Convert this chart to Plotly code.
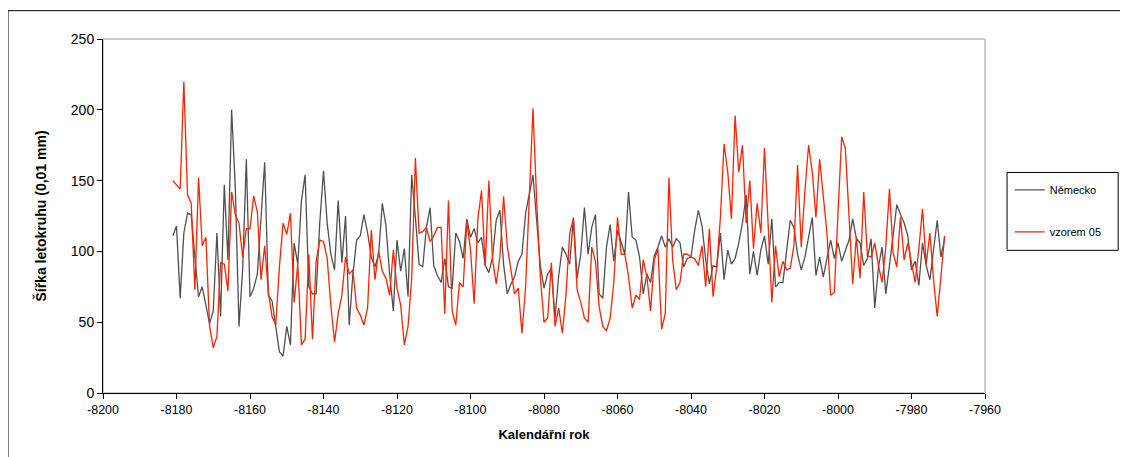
import plotly.graph_objects as go

start_year = -8181
nemecko = [111, 118, 67, 113, 127, 126, 96, 68, 75, 61, 49, 58, 113, 54, 147, 94, 200, 145, 47, 87,
           165, 68, 74, 84, 125, 163, 69, 65, 47, 29, 26, 47, 34, 106, 91, 136, 154, 75, 70, 70,
           121, 157, 120, 98, 87, 136, 92, 125, 48, 84, 108, 111, 126, 113, 96, 89, 98, 134, 118, 84,
           58, 108, 86, 102, 68, 154, 124, 91, 89, 117, 131, 90, 83, 78, 95, 75, 74, 113, 107, 95,
           123, 110, 116, 106, 110, 90, 85, 96, 122, 129, 91, 70, 77, 82, 93, 98, 127, 140, 154, 122,
           90, 74, 84, 88, 53, 83, 103, 98, 91, 124, 81, 98, 131, 98, 117, 126, 70, 67, 103, 119,
           93, 115, 107, 98, 142, 110, 108, 96, 70, 84, 78, 97, 103, 111, 103, 109, 103, 109, 106, 89,
           95, 96, 115, 129, 118, 94, 77, 90, 89, 113, 80, 101, 91, 95, 106, 120, 140, 84, 100, 83,
           101, 111, 91, 123, 75, 78, 78, 99, 122, 117, 98, 87, 96, 110, 124, 83, 96, 82, 94, 108,
           95, 106, 93, 101, 108, 123, 109, 106, 90, 95, 109, 60, 89, 103, 70, 90, 110, 133, 126, 120,
           111, 87, 93, 76, 106, 90, 80, 101, 122, 96, 109]
vzorem05 = [150, 147, 144, 220, 140, 134, 73, 152, 104, 110, 47, 32, 40, 92, 91, 72, 142, 126, 120, 96,
            116, 116, 139, 128, 80, 104, 71, 54, 48, 89, 120, 112, 127, 64, 91, 34, 38, 98, 38, 93,
            108, 107, 95, 62, 36, 56, 69, 96, 84, 87, 60, 55, 48, 60, 115, 80, 100, 86, 81, 69,
            101, 74, 62, 34, 47, 81, 166, 113, 114, 117, 107, 111, 117, 117, 56, 136, 58, 48, 78, 75,
            121, 101, 63, 123, 143, 90, 150, 94, 77, 96, 139, 104, 88, 70, 74, 42, 75, 141, 201, 136,
            82, 50, 53, 92, 47, 60, 42, 70, 113, 123, 73, 64, 53, 50, 103, 93, 61, 47, 44, 53,
            78, 124, 98, 98, 82, 60, 69, 66, 94, 82, 58, 94, 102, 45, 56, 152, 94, 73, 78, 98,
            98, 96, 95, 90, 104, 75, 116, 68, 89, 124, 176, 156, 123, 196, 156, 175, 120, 150, 102, 134,
            113, 173, 123, 64, 104, 82, 93, 87, 88, 104, 161, 103, 143, 175, 156, 124, 165, 140, 113, 69,
            71, 127, 181, 173, 129, 77, 110, 81, 142, 97, 96, 106, 90, 78, 103, 144, 99, 89, 124, 94,
            106, 91, 78, 102, 130, 91, 113, 80, 54, 82, 111]
years = list(range(start_year, start_year + len(nemecko)))
x_ticks = [-8200, -8180, -8160, -8140, -8120, -8100, -8080, -8060, -8040, -8020, -8000, -7980, -7960]
y_ticks = [0, 50, 100, 150, 200, 250]

fig = go.Figure()
fig.add_trace(go.Scatter(x=years, y=nemecko, mode="lines", name="Německo",
                         line=dict(color="#505050", width=1.3), legendgroup="a"))
fig.add_trace(go.Scatter(x=years, y=vzorem05, mode="lines", name="vzorem 05",
                         line=dict(color="#ff2200", width=1.3), legendgroup="b"))

font = "Liberation Sans, Arial, sans-serif"
fig.update_layout(
    width=1120, height=449,
    margin=dict(l=95, r=143, t=30.5, b=64.3, pad=0),
    paper_bgcolor="white", plot_bgcolor="white",
    font=dict(family=font, size=12, color="black"),
    showlegend=True,
    legend=dict(x=1.028, y=0.615, xanchor="left", yanchor="top",
                borderwidth=0, bgcolor="rgba(0,0,0,0)",
                font=dict(family=font, size=11), tracegroupgap=23,
                itemwidth=30),
    xaxis=dict(range=[-8200, -7960], tickvals=x_ticks, ticktext=[str(v) for v in x_ticks],
               showgrid=False, zeroline=False, showline=True, linecolor="black", linewidth=1,
               ticks="outside", ticklen=5, tickcolor="black", tickfont=dict(size=12.5),
               title=dict(text="<b>Kalendářní rok</b>", font=dict(size=13), standoff=13)),
    yaxis=dict(range=[0, 250], tickvals=y_ticks, showgrid=False, zeroline=False,
               showline=True, linecolor="black", linewidth=1,
               ticks="outside", ticklen=5, tickcolor="black", tickfont=dict(size=14),
               title=dict(text="<b>Šířka letokruhu (0,01 mm)</b>", font=dict(size=14), standoff=20)),
    shapes=[
        dict(type="rect", xref="paper", yref="paper", x0=0, x1=1, y0=0, y1=1,
             line=dict(color="#9a9a9a", width=1), layer="below"),
        dict(type="rect", xref="paper", yref="paper", x0=-0.1077, x1=1.154, y0=-0.20, y1=1.080,
             line=dict(color="black", width=1), layer="below"),
        dict(type="rect", xref="paper", yref="paper", x0=1.025, x1=1.151, y0=0.403, y1=0.623,
             line=dict(color="black", width=1), fillcolor="white", layer="below"),
    ],
)

fig.write_html("out.html")
